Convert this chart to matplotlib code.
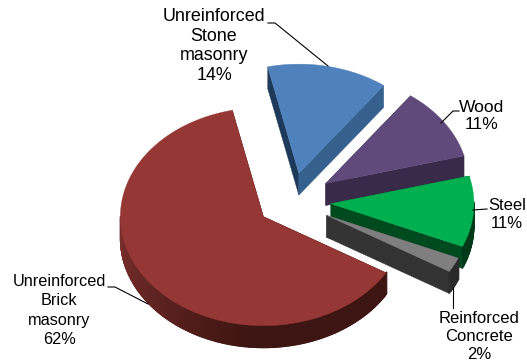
import numpy as np
import matplotlib
matplotlib.use("Agg")
import matplotlib.pyplot as plt
from matplotlib.colors import to_rgb

# drawn order, back to front (stone, wood, steel, concrete, brick)
categories = ["Unreinforced\nStone\nmasonry", "Wood", "Steel", "Reinforced\nConcrete", "Unreinforced\nBrick\nmasonry"]
pct_labels = ["14%", "11%", "11%", "2%", "62%"]
# slice sizes (percent of the circle)
shares = [13.6, 10.8, 10.5, 2.2, 62.9]
top_colors = ["#4F81BD", "#604A7B", "#00B050", "#7F7F7F", "#953735"]
cut_colors = ["#36618F", "#3A2A4A", "#004A20", "#333333", "#3D1512"]
rim_colors = ["#1E3A5A", "#3A2A4A", "#00602A", "#333333", "#7B2F2D"]
rim_dark = ["#1E3A5A", "#3A2A4A", "#003A18", "#2A2A2A", "#3D1512"]
explode = [38, 42, 40, 40, 34]
left_cut_colors = ["#1E3A5A", "#3A2A4A", "#004A20", "#333333", "#3D1512"]

# pie geometry in pixels
cx, cy = 291, 201.5
rx, ry = 143, 109
depth = 22
start_angle = -31  # concrete's lower edge

# angles follow the pie order counter clockwise from concrete
pie_order = [3, 2, 1, 0, 4]
angles = {}
a = start_angle
for i in pie_order:
    angles[i] = (a, a + shares[i] * 3.6)
    a += shares[i] * 3.6

fig = plt.figure(figsize=(5.27, 3.62), dpi=100)
ax = fig.add_axes([0, 0, 1, 1])
ax.set_xlim(0, 527)
ax.set_ylim(362, 0)
ax.axis("off")


def pt(x0, y0, deg):
    t = np.radians(deg)
    return x0 + rx * np.cos(t), y0 - ry * np.sin(t)


for i in range(len(categories)):
    a0, a1 = angles[i]
    mid = (a0 + a1) / 2
    x0 = cx + explode[i] * np.cos(np.radians(mid))
    y0 = cy - explode[i] * (ry / rx) * np.sin(np.radians(mid))

    # flat cut faces
    for ang, col in ((a1, left_cut_colors[i]), (a0, cut_colors[i])):
        px, py = pt(x0, y0, ang)
        ax.fill([x0, px, px, x0], [y0, py, py + depth, y0 + depth], color=col, lw=0.3)

    # outer rim, split into strips for the shading
    steps = np.linspace(a0, a1, int(max(a1 - a0, 2)) + 1)
    c1 = np.array(to_rgb(rim_colors[i]))
    c2 = np.array(to_rgb(rim_dark[i]))
    for s0, s1 in zip(steps[:-1], steps[1:]):
        m = (s0 + s1) / 2 % 360
        if m < 180:
            continue
        f = min(max((m - 185) / 80, 0), 1)
        col = c1 * (1 - f) + c2 * f
        xa, ya = pt(x0, y0, s0)
        xb, yb = pt(x0, y0, s1 + 0.6)
        ax.fill([xa, xb, xb, xa], [ya, yb, yb + depth, ya + depth], fc=col, ec=col, lw=0.8)

    # top face
    t = np.radians(np.linspace(a0, a1, 200))
    xs = np.r_[x0, x0 + rx * np.cos(t)]
    ys = np.r_[y0, y0 - ry * np.sin(t)]
    ax.fill(xs, ys, color=top_colors[i], lw=0.3)

# labels, the original has slightly different sizes per label
label_pos = [(214, 46), (482, 116), (507, 214.5), (479, 336.5), (59, 310.5)]
label_size = [12.9, 12.6, 12, 12, 11.7]
label_space = [1.23, 1.21, 1.3, 1.27, 1.34]
for name, pct, (lx, ly), fs, ls in zip(categories, pct_labels, label_pos, label_size, label_space):
    ax.text(lx, ly, name + "\n" + pct, family="Liberation Sans", fontsize=fs,
            ha="center", va="center", color="black", linespacing=ls)

# leader lines
leaders = [
    ([268, 275, 328], [23, 23, 66]),
    ([459, 453, 441], [111, 111, 123]),
    ([487, 473], [209, 210]),
    ([453, 453], [287, 308]),
    ([108, 115, 148], [287, 287, 304]),
]
for lxs, lys in leaders:
    ax.plot(lxs, lys, color="black", lw=0.8)

fig.savefig("out.png", dpi=100, facecolor="white")
